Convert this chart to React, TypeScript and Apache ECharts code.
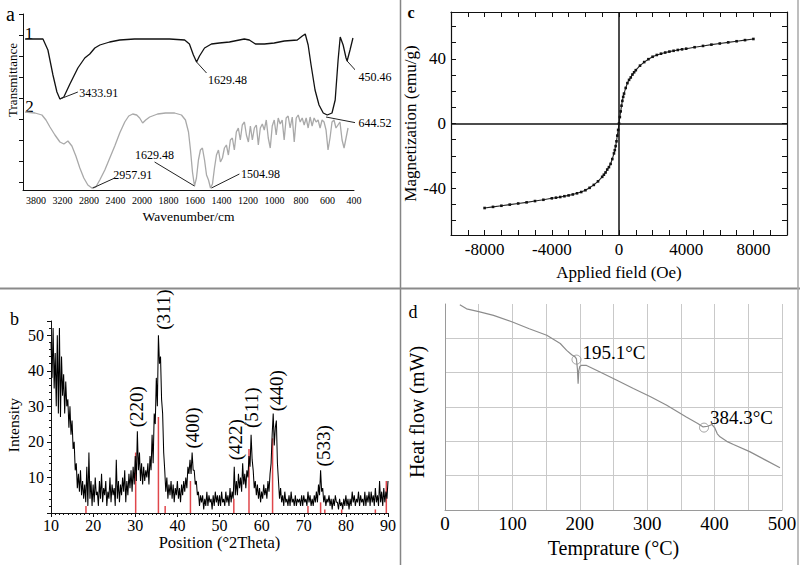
import React, { useEffect, useRef } from 'react';
import * as echarts from 'echarts';

// ---------- Panel a: FTIR ----------
const waveTicks = [3800, 3200, 2800, 2400, 2000, 1800, 1600, 1400, 1200, 1000, 800, 600, 400];
const ftir1Wave = [4046, 3642, 3530, 3416, 3326, 3258, 3180, 3088, 2968, 2864, 2788, 2712, 2636, 2488, 2336, 2112, 1942, 1792, 1678, 1642, 1612, 1588, 1566, 1528, 1476, 1416, 1340, 1228, 1190, 1144, 1076, 1002, 926, 828, 790, 768, 746, 724, 694, 664, 632, 602, 566, 542, 520, 504, 482, 460, 452, 430, 408];
const ftir1T = [151, 151, 140, 115, 98, 91, 93, 106, 122, 132, 136, 142, 145, 148, 150, 151, 151, 151, 150, 146, 135, 128, 134, 142, 146, 147, 148, 151, 150, 146, 146, 147, 149, 150, 154, 156, 145, 125, 100, 85, 77, 75, 77, 90, 130, 153, 145, 132, 129, 140, 152];
const ftir2Wave = [4048, 3823, 3665, 3574, 3484, 3371, 3258, 3179, 3118, 3058, 2998, 2938, 2878, 2817, 2757, 2697, 2637, 2561, 2486, 2411, 2336, 2260, 2200, 2140, 2080, 2035, 1995, 1972, 1942, 1882, 1822, 1754, 1702, 1672, 1649, 1634, 1619, 1604, 1589, 1574, 1559, 1544, 1528, 1513, 1498, 1483, 1468, 1453, 1438, 1423, 1408, 1393, 1378, 1363, 1348, 1333, 1318, 1303, 1288, 1273, 1258, 1243, 1227, 1212, 1197, 1182, 1167, 1152, 1137, 1122, 1107, 1092, 1077, 1062, 1047, 1032, 1017, 1002, 987, 972, 957, 942, 927, 912, 897, 882, 866, 851, 836, 821, 806, 791, 776, 761, 746, 731, 716, 701, 686, 671, 656, 641, 626, 611, 596, 581, 566, 551, 536, 521, 506, 490, 475, 460, 445];
const ftir2T = [78, 77, 75, 70, 63, 55, 48, 46, 49, 44, 34, 22, 12, 5, 2, 3, 10, 20, 32, 44, 57, 68, 74, 76, 75, 72, 67, 70, 73, 76, 77, 77, 75, 70, 58, 40, 18, 4, 12, 30, 40, 42, 30, 15, 10, 2, 6, 22, 35, 40, 28, 32, 42, 45, 35, 50, 52, 40, 58, 62, 50, 65, 68, 55, 48, 64, 50, 62, 65, 45, 62, 66, 60, 70, 52, 42, 64, 70, 55, 72, 66, 70, 50, 72, 74, 62, 73, 48, 72, 75, 68, 72, 65, 72, 62, 73, 64, 72, 68, 70, 62, 70, 68, 60, 40, 52, 68, 70, 62, 65, 68, 50, 42, 52, 62];
const ftirAnnoText = ['3433.91', '1629.48', '450.46', '644.52', '2957.91', '1629.48', '1504.98'];
const ftirAnnoPeakWave = [3258, 1588, 452, 611, 2742, 1604, 1476];
const ftirAnnoPeakT = [91, 128, 129, 73, 2, 4, 2];
const ftirAnnoTextWave = [2968, 1513, 377, 377, 2411, 1905, 1265];
const ftirAnnoTextT = [98, 117, 118, 67, 12, 28, 16];

// ---------- Panel c: magnetization ----------
const fieldOe = [-8000, -7500, -7000, -6500, -6000, -5500, -5000, -4500, -4000, -3750, -3500, -3250, -3000, -2750, -2500, -2250, -2000, -1750, -1500, -1250, -1000, -900, -800, -700, -600, -500, -400, -300, -250, -200, -150, -100, -50, 0, 50, 100, 150, 200, 250, 300, 400, 500, 600, 700, 800, 900, 1000, 1250, 1500, 1750, 2000, 2250, 2500, 2750, 3000, 3250, 3500, 3750, 4000, 4500, 5000, 5500, 6000, 6500, 7000, 7500, 8000];
const magnetization = [-52.3, -51.6, -50.9, -50.2, -49.5, -48.8, -48.0, -47.2, -46.3, -45.9, -45.5, -45.0, -44.5, -43.9, -43.2, -42.4, -41.3, -39.8, -38.0, -35.8, -33.0, -31.7, -30.3, -28.5, -27.0, -25.0, -22.0, -18.5, -16.5, -14.0, -11.0, -7.5, -4.0, 0, 4.0, 7.5, 11.0, 14.0, 16.5, 18.5, 22.0, 25.0, 27.0, 28.5, 30.3, 31.7, 33.0, 35.8, 38.0, 39.8, 41.3, 42.4, 43.2, 43.9, 44.5, 45.0, 45.5, 45.9, 46.3, 47.2, 48.0, 48.8, 49.5, 50.2, 50.9, 51.6, 52.3];

// ---------- Panel b: XRD ----------
const xrdStart = 10;
const xrdStep = 0.25;
const xrdIntensity = [
  48, 38, 52, 35, 45, 30, 50, 28, 52, 27, 44, 33, 39, 28, 37, 30,
  32, 24, 30, 22, 26, 18, 20, 12, 14, 7, 11, 6, 12, 5, 9, 4,
  8, 3, 13, 2, 17, 4, 9, 2, 8, 3, 10, 5, 6, 2, 9, 4,
  11, 3, 7, 5, 9, 2, 6, 4, 10, 3, 8, 5, 7, 2, 15, 4,
  9, 3, 8, 5, 10, 6, 12, 3, 9, 5, 11, 7, 12, 6, 13, 8,
  16, 9, 23, 12, 17, 9, 14, 8, 13, 9, 12, 10, 14, 8, 16, 12,
  22, 14, 28, 25, 38, 30, 50, 42, 44, 32, 28, 17, 12, 6, 10, 4,
  8, 5, 9, 4, 8, 3, 7, 5, 9, 4, 7, 3, 8, 5, 9, 6,
  10, 7, 13, 11, 15, 11, 17, 12, 12, 8, 9, 5, 6, 2, 5, 3,
  5, 1, 4, 2, 6, 2, 5, 3, 4, 1, 5, 2, 6, 3, 5, 2,
  5, 2, 6, 3, 4, 2, 6, 3, 5, 2, 7, 3, 6, 4, 13, 5,
  9, 5, 11, 7, 10, 6, 14, 8, 11, 7, 12, 10, 16, 13, 22, 15,
  12, 7, 9, 5, 8, 4, 7, 3, 6, 4, 8, 5, 7, 4, 9, 6,
  11, 14, 22, 28, 19, 24, 26, 14, 9, 4, 7, 3, 5, 2, 6, 3,
  4, 2, 5, 2, 6, 3, 4, 2, 5, 2, 4, 3, 4, 2, 5, 2,
  5, 3, 4, 2, 6, 3, 5, 2, 4, 2, 5, 3, 6, 3, 8, 5,
  12, 6, 7, 3, 5, 2, 4, 3, 5, 2, 4, 1, 4, 2, 5, 3,
  3, 1, 4, 2, 3, 1, 4, 2, 5, 2, 4, 1, 4, 2, 6, 3,
  5, 2, 4, 3, 6, 2, 5, 3, 4, 2, 6, 2, 5, 3, 6, 2,
  6, 3, 5, 2, 7, 3, 5, 2, 9, 3, 6, 2, 7, 3, 6, 4,
  9,
];
const refPeakPos = [18.3, 30.1, 35.5, 37.1, 43.1, 53.4, 57.0, 62.6, 71.0, 74.0, 75.0, 79.0, 87.0, 89.6];
const refPeakInt = [2, 17, 27, 2, 9, 4, 18, 21, 2, 3, 1, 1, 1, 9];
const hklText = ['(220)', '(311)', '(400)', '(422)', '(511)', '(440)', '(533)'];
const hklPos = [30.3, 36.6, 43.7, 53.7, 57.7, 63.6, 74.6];
const hklLevel = [29.9, 57.2, 23.9, 20.6, 29.6, 34.4, 18.9];

// ---------- Panel d: DSC ----------
const dscTemp = [22, 32, 50, 72, 101, 125, 151, 171, 180.5, 188, 193, 195, 196.5, 197.5, 198.5, 200, 202, 210, 230, 255, 279.5, 305, 329, 358, 375, 383, 390, 396, 400, 404, 408, 418, 428, 452, 475, 497];
const dscFlow = [5.98, 5.86, 5.78, 5.67, 5.47, 5.28, 5.09, 4.85, 4.65, 4.52, 4.46, 4.4, 4.1, 3.68, 4.05, 4.18, 4.21, 4.21, 4.02, 3.78, 3.54, 3.3, 3.05, 2.71, 2.52, 2.42, 2.44, 2.49, 2.4, 2.22, 2.13, 2.0, 1.91, 1.7, 1.46, 1.23];
const dscMarkTemp = [195.1, 384.3];
const dscMarkFlow = [4.38, 2.4];
const dscMarkText = ['195.1°C', '384.3°C'];

const serif = "'Liberation Serif', 'DejaVu Serif', serif";
const ink = '#000000';

function waveToPos(w: number): number {
  const t = waveTicks;
  if (w >= t[0]) return (t[0] - w) / (t[0] - t[1]);
  for (let i = 0; i < t.length - 1; i++) {
    if (w >= t[i + 1]) return i + (t[i] - w) / (t[i] - t[i + 1]);
  }
  const n = t.length - 2;
  return n + (t[n] - w) / (t[n] - t[n + 1]);
}

const annoLabelPos = ['right', 'right', 'right', 'right', 'right', 'top', 'right'];
const annoLabelOffset = [[0, 1], [0, 7], [0, 5], [0, 0], [-3, -3], [0, 0], [0, 0]];
const dscLabelOffset = [[0, -7], [0, -10]];

function buildOption() {
  const txt = (size: number) => ({
    fontFamily: serif, fontSize: size, color: ink, textBorderWidth: 0, opacity: 1,
  });
  const series: any[] = [];

  series.push({
    type: 'line', xAxisIndex: 0, yAxisIndex: 0, symbol: 'none', clip: false,
    lineStyle: { color: '#111', width: 1.3 },
    data: ftir1Wave.map((w, i) => [waveToPos(w), ftir1T[i]]),
  });
  series.push({
    type: 'line', xAxisIndex: 0, yAxisIndex: 0, symbol: 'none', clip: false,
    lineStyle: { color: '#a9a9a9', width: 1.3 },
    data: ftir2Wave.map((w, i) => [waveToPos(w), ftir2T[i]]),
  });
  ftirAnnoText.forEach((_, i) => {
    series.push({
      type: 'line', xAxisIndex: 0, yAxisIndex: 0, symbol: 'none', clip: false, silent: true,
      lineStyle: { color: '#222', width: 1 },
      data: [
        [waveToPos(ftirAnnoPeakWave[i]), ftirAnnoPeakT[i]],
        [waveToPos(ftirAnnoTextWave[i]), ftirAnnoTextT[i]],
      ],
    });
  });
  series.push({
    type: 'scatter', xAxisIndex: 0, yAxisIndex: 0, symbolSize: 1, clip: false, silent: true,
    itemStyle: { color: '#000', opacity: 0 },
    label: { show: true, formatter: '{b}', distance: 1, ...txt(12) },
    data: ftirAnnoText.map((t, i) => ({
      name: t,
      value: [waveToPos(ftirAnnoTextWave[i]), ftirAnnoTextT[i]],
      label: { position: annoLabelPos[i], offset: annoLabelOffset[i] },
    })),
  });

  series.push({
    type: 'line', xAxisIndex: 1, yAxisIndex: 1, symbol: 'rect', symbolSize: 2.6, showAllSymbol: true,
    lineStyle: { color: '#222', width: 1.1 }, itemStyle: { color: '#111' },
    data: fieldOe.map((f, i) => [f, magnetization[i]]),
    markLine: {
      silent: true, symbol: ['none', 'none'], label: { show: false },
      lineStyle: { color: '#111', type: 'solid', width: 1.5 },
      data: [{ xAxis: 0 }, { yAxis: 0 }],
    },
  });

  series.push({
    type: 'line', xAxisIndex: 3, yAxisIndex: 3, symbol: 'none',
    lineStyle: { color: '#000', width: 1.05 },
    data: xrdIntensity.map((v, i) => [xrdStart + i * xrdStep, v]),
  });
  series.push({
    type: 'bar', xAxisIndex: 3, yAxisIndex: 3, barWidth: 1.5, z: 3,
    itemStyle: { color: '#e0474c' },
    data: refPeakPos.map((p, i) => [p, refPeakInt[i]]),
  });
  series.push({
    type: 'scatter', xAxisIndex: 3, yAxisIndex: 3, symbolSize: 1, clip: false, silent: true,
    itemStyle: { color: '#000', opacity: 0 },
    label: { show: true, formatter: '{b}', position: 'inside', rotate: 90, ...txt(19) },
    data: hklText.map((t, i) => ({ name: t, value: [hklPos[i], hklLevel[i]] })),
  });

  series.push({
    type: 'line', xAxisIndex: 4, yAxisIndex: 4, symbol: 'none',
    lineStyle: { color: '#8c8c8c', width: 1.2 },
    data: dscTemp.map((t, i) => [t, dscFlow[i]]),
  });
  series.push({
    type: 'scatter', xAxisIndex: 4, yAxisIndex: 4, symbol: 'circle', symbolSize: 9, silent: true,
    itemStyle: { color: 'rgba(255,255,255,0)', borderColor: '#8c8c8c', borderWidth: 1 },
    label: { show: true, formatter: '{b}', position: 'right', distance: 1, ...txt(19) },
    data: dscMarkText.map((t, i) => ({
      name: t, value: [dscMarkTemp[i], dscMarkFlow[i]], label: { offset: dscLabelOffset[i] },
    })),
  });

  const blackLine = { show: true, onZero: false, lineStyle: { color: '#111', width: 1.2 } };

  return {
    animation: false,
    backgroundColor: '#ffffff',
    textStyle: { fontFamily: serif, color: ink },
    grid: [
      { left: 23, top: 14, width: 331, height: 176 },
      { left: 451, top: 12, width: 336, height: 223 },
      { left: 51, top: 321, width: 337, height: 192 },
      { left: 445, top: 304, width: 337, height: 206 },
    ],
    xAxis: [
      {
        gridIndex: 0, type: 'value', min: -0.49, max: 12,
        axisLine: { show: true, onZero: false, lineStyle: { color: '#111', width: 1 } },
        axisTick: { show: false }, splitLine: { show: false },
        axisLabel: {
          customValues: waveTicks.map((_, i) => i),
          formatter: (v: number) => String(waveTicks[Math.round(v)] ?? ''),
          margin: 5, ...txt(10),
        },
        name: 'Wavenumber/cm', nameLocation: 'middle', nameGap: 19, nameTextStyle: txt(13.5),
      },
      {
        gridIndex: 1, type: 'value', min: -10000, max: 10000, interval: 1000, position: 'bottom',
        axisLine: blackLine,
        axisTick: { inside: true, length: 5, lineStyle: { color: '#111' } }, splitLine: { show: false },
        axisLabel: { formatter: (v: number) => (v % 4000 === 0 ? String(v) : ''), margin: 6, ...txt(17) },
        name: 'Applied field (Oe)', nameLocation: 'middle', nameGap: 29, nameTextStyle: txt(17),
      },
      {
        gridIndex: 1, type: 'value', min: -10000, max: 10000, interval: 1000, position: 'top',
        axisLine: blackLine,
        axisTick: { inside: true, length: 5, lineStyle: { color: '#111' } },
        axisLabel: { show: false }, splitLine: { show: false },
      },
      {
        gridIndex: 2, type: 'value', min: 10, max: 90, interval: 10,
        axisLine: { show: true, onZero: false, lineStyle: { color: '#111', width: 1 } },
        axisTick: { length: 4, lineStyle: { color: '#111' } },
        minorTick: { show: true, splitNumber: 10, length: 2, lineStyle: { color: '#111' } },
        splitLine: { show: false },
        axisLabel: { margin: 4, ...txt(16) },
        name: 'Position (°2Theta)', nameLocation: 'middle', nameGap: 17, nameTextStyle: txt(16.5),
      },
      {
        gridIndex: 3, type: 'value', min: 0, max: 500, interval: 50,
        axisLine: { show: true, onZero: false, lineStyle: { color: '#9a9a9a', width: 1 } },
        axisTick: { show: false },
        splitLine: { show: true, lineStyle: { color: '#c9c9c9', width: 1 } },
        axisLabel: { formatter: (v: number) => (v % 100 === 0 ? String(v) : ''), margin: 4, ...txt(19) },
        name: 'Temprature (°C)', nameLocation: 'middle', nameGap: 28, nameTextStyle: txt(20),
      },
    ],
    yAxis: [
      {
        gridIndex: 0, type: 'value', min: 0, max: 176,
        axisLine: { show: true, onZero: false, lineStyle: { color: '#111', width: 1 } },
        axisTick: { show: true, length: 4, customValues: [8, 29, 50, 71, 92, 113, 134, 155, 176], lineStyle: { color: '#111' } },
        axisLabel: { show: false }, splitLine: { show: false },
        name: 'Transmittance', nameLocation: 'middle', nameGap: 4.5,
        nameTextStyle: { ...txt(13), padding: [0, 0, 0, 44] },
      },
      {
        gridIndex: 1, type: 'value', min: -69, max: 69, position: 'left',
        axisLine: blackLine,
        axisTick: { inside: true, length: 5, customValues: [-60, -50, -40, -30, -20, -10, 0, 10, 20, 30, 40, 50, 60], lineStyle: { color: '#111' } },
        axisLabel: { customValues: [-40, 0, 40], margin: 5, ...txt(17) },
        splitLine: { show: false },
        name: 'Magnetization (emu/g)', nameLocation: 'middle', nameGap: 29.5, nameTextStyle: txt(17),
      },
      {
        gridIndex: 1, type: 'value', min: -69, max: 69, position: 'right',
        axisLine: blackLine,
        axisTick: { inside: true, length: 5, customValues: [-60, -50, -40, -30, -20, -10, 0, 10, 20, 30, 40, 50, 60], lineStyle: { color: '#111' } },
        axisLabel: { show: false }, splitLine: { show: false },
      },
      {
        gridIndex: 2, type: 'value', min: 0, max: 54, interval: 10,
        axisLine: { show: true, onZero: false, lineStyle: { color: '#111', width: 1 } },
        axisTick: { length: 4, lineStyle: { color: '#111' } },
        minorTick: { show: true, splitNumber: 5, length: 2, lineStyle: { color: '#111' } },
        splitLine: { show: false },
        axisLabel: { formatter: (v: number) => (v > 0 && v % 10 === 0 ? String(v) : ''), margin: 7, ...txt(16) },
        name: 'Intensity', nameLocation: 'middle', nameGap: 30,
        nameTextStyle: { ...txt(15.5), padding: [0, 16, 0, 0] },
      },
      {
        gridIndex: 3, type: 'value', min: 0, max: 6, interval: 1,
        axisLine: { show: true, onZero: false, lineStyle: { color: '#9a9a9a', width: 1 } },
        axisTick: { show: false }, axisLabel: { show: false },
        splitLine: { show: true, showMaxLine: false, lineStyle: { color: '#c9c9c9', width: 1 } },
        name: 'Heat flow (mW)', nameLocation: 'middle', nameGap: 18,
        nameTextStyle: { ...txt(20), padding: [0, 10, 0, 0] },
      },
    ],
    graphic: [
      { type: 'line', silent: true, shape: { x1: 400.5, y1: 0, x2: 400.5, y2: 565 }, style: { stroke: '#858585', lineWidth: 1.5 } },
      { type: 'line', silent: true, shape: { x1: 0, y1: 288.5, x2: 800, y2: 288.5 }, style: { stroke: '#8a8a8a', lineWidth: 2 } },
      { type: 'line', silent: true, shape: { x1: 798, y1: 0, x2: 798, y2: 565 }, style: { stroke: '#a8a8a8', lineWidth: 1.5 } },
      { type: 'text', silent: true, x: 10.5, y: 14, style: { text: 'a', font: `20px ${serif}`, fill: ink, textAlign: 'center', textVerticalAlign: 'middle' } },
      { type: 'text', silent: true, x: 411, y: 12.5, style: { text: 'c', font: `bold 16px ${serif}`, fill: ink, textAlign: 'center', textVerticalAlign: 'middle' } },
      { type: 'text', silent: true, x: 14.5, y: 319, style: { text: 'b', font: `18px ${serif}`, fill: ink, textAlign: 'center', textVerticalAlign: 'middle' } },
      { type: 'text', silent: true, x: 413, y: 312, style: { text: 'd', font: `18px ${serif}`, fill: ink, textAlign: 'center', textVerticalAlign: 'middle' } },
      { type: 'text', silent: true, x: 29, y: 33, style: { text: '1', font: `17px ${serif}`, fill: ink, textAlign: 'center', textVerticalAlign: 'middle' } },
      { type: 'text', silent: true, x: 29.5, y: 106, style: { text: '2', font: `17px ${serif}`, fill: ink, textAlign: 'center', textVerticalAlign: 'middle' } },
    ],
    series,
  };
}

export default function App() {
  const ref = useRef<HTMLDivElement>(null);
  useEffect(() => {
    if (!ref.current) return;
    const chart = echarts.init(ref.current, undefined, { renderer: 'svg' });
    chart.setOption(buildOption() as any);
    return () => chart.dispose();
  }, []);
  return (
    <div
      ref={ref}
      style={{ position: 'fixed', left: 0, top: 0, width: 800, height: 565, background: '#fff' }}
    />
  );
}
